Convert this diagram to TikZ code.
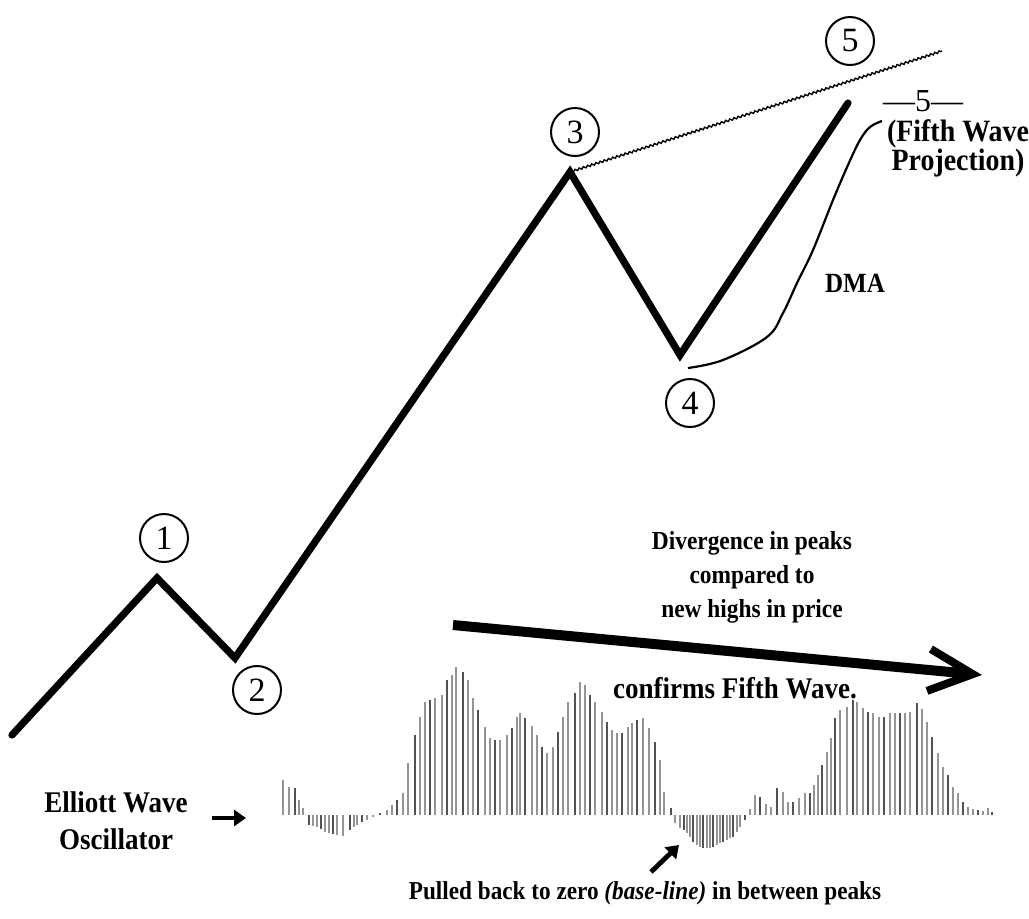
\documentclass[tikz,border=0pt]{standalone}
\usepackage{fontspec}
\setmainfont{Liberation Serif}[FakeStretch=0.9]
\newfontfamily\plainfont{Liberation Serif}
\usetikzlibrary{arrows.meta,decorations.pathmorphing}
\begin{document}
\begin{tikzpicture}[x=0.5pt,y=-0.5pt,
  wave/.style={line width=3.6pt, line join=miter, line cap=round},
  numcirc/.style={circle, draw, line width=1pt, minimum size=24pt, inner sep=0pt, font=\plainfont\fontsize{17}{17}\selectfont},
  lbl/.style={font=\bfseries\fontsize{13}{17}\selectfont, align=center, inner sep=0pt},
  bara/.style={line width=1.3pt, draw=black!42},
  barb/.style={line width=1.3pt, draw=black!68},
  thin/.style={line width=0.7pt, decorate, decoration={zigzag, segment length=2.2pt, amplitude=0.5pt}},
  dmaline/.style={line width=1.1pt},
  bigarrow/.style={line width=5pt, -{Straight Barb[length=22pt,width=21pt,line width=4pt]}},
  smallarrow/.style={line width=2.4pt, -{Triangle[length=6pt,width=8pt]}}]
\useasboundingbox (0,0) rectangle (1029,918);
\fill[white] (0,0) rectangle (1029,918);

% wave points
\coordinate (w0) at (12,735);
\coordinate (w1) at (157,578);
\coordinate (w2) at (235,658);
\coordinate (w3) at (570,172);
\coordinate (w4) at (680,355);
\coordinate (w5) at (848,103);
\draw[wave] (w0) -- (w1) -- (w2) -- (w3) -- (w4) -- (w5);

% circled numbers
\node[numcirc] (c1) at (164,538) {1};
\node[numcirc] (c2) at (257,690) {2};
\node[numcirc] (c3) at (575,132) {3};
\node[numcirc] (c4) at (690,403) {4};
\node[numcirc] (c5) at (850,41) {5};

% trend line from 3
\coordinate (t5) at (942,51);
\draw[thin] (w3) -- (t5);

% fifth wave projection
\node[font=\plainfont\fontsize{16}{16}\selectfont, inner sep=0pt] (p5) at (923,101) {—5—};
\node[lbl, font=\bfseries\fontsize{15.5}{14.5}\selectfont] (fwp) at (958,148) {(Fifth Wave\\Projection)};

% DMA
\node[lbl, font=\bfseries\fontsize{13.9}{15}\selectfont] (dma) at (855,283) {DMA};
\coordinate (d0) at (688,368);
\coordinate (d1) at (882,121);
\draw[dmaline] plot[smooth, tension=0.6] coordinates {(d0) (723,360) (767,337) (783,313) (797,283) (813,250) (833,200) (848,165) (860,140) (870,127) (d1)};

% divergence text and arrow
\node[lbl] (div) at (752,577) {Divergence in peaks\\compared to\\new highs in price};
\node[lbl, font=\bfseries\fontsize{15}{17}\selectfont] (conf) at (735,688) {confirms Fifth Wave.};
\coordinate (a1) at (453,625);
\coordinate (a2) at (982,675);
\draw[bigarrow] (a1) -- (a2);

% oscillator bars
\foreach \x/\h [count=\i] in {283/35, 289/28, 295/27, 299/15, 303/7, 309/-10, 313/-11, 317/-12, 321/-14, 325/-17, 329/-18, 333/-19, 337/-20, 343/-21, 350/-15, 354/-12, 357/-10, 362/-7, 367/-5, 373/-2, 380/2, 387/5, 392/10, 397/15, 403/22, 408/52, 415/80, 420/98, 425/113, 430/115, 435/117, 442/120, 447/135, 452/140, 456/148, 463/143, 468/135, 473/117, 478/105, 485/88, 490/77, 495/75, 500/75, 507/80, 512/87, 517/98, 520/102, 525/97, 532/89, 537/80, 542/68, 547/62, 553/68, 558/83, 563/98, 568/113, 575/122, 580/133, 585/130, 590/120, 595/113, 602/103, 607/93, 612/85, 617/82, 622/82, 628/88, 632/92, 637/95, 643/97, 649/87, 655/73, 660/55, 664/23, 671/7, 675/-8, 680/-13, 684/-15, 687/-18, 690/-22, 693/-27, 697/-30, 700/-32, 703/-33, 707/-33, 710/-33, 713/-32, 717/-30, 720/-28, 723/-27, 727/-25, 730/-23, 733/-22, 737/-17, 740/-12, 745/-5, 750/6, 755/20, 760/18, 766/11, 771/8, 777/27, 783/23, 788/13, 793/13, 799/17, 805/22, 810/22, 814/30, 818/40, 822/50, 827/63, 831/77, 835/97, 840/105, 847/108, 853/115, 857/113, 863/107, 868/103, 873/102, 879/98, 884/98, 890/102, 895/102, 900/102, 905/102, 910/103, 917/112, 922/106, 927/93, 932/78, 938/62, 943/48, 948/40, 953/28, 958/22, 963/13, 968/8, 973/6, 978/5, 983/4, 988/7, 992/3}
{
  \pgfmathparse{mod(\i,3)==0 ? 1 : 0}
  \ifnum\pgfmathresult>0
    \draw[barb] (\x,815) -- ++(0,-\h);
  \else
    \draw[bara] (\x,815) -- ++(0,-\h);
  \fi
}

% oscillator label
\node[lbl, font=\bfseries\fontsize{15}{18.5}\selectfont] (ewo) at (116,821) {Elliott Wave\\Oscillator};
\coordinate (e1) at (212,818);
\coordinate (e2) at (246,818);
\draw[smallarrow] (e1) -- (e2);

% bottom note
\node[lbl, font=\bfseries\fontsize{12.9}{15}\selectfont] (pull) at (645,893) {Pulled back to zero \textit{(base-line)} in between peaks};
\coordinate (b1) at (651,872);
\coordinate (b2) at (679,845);
\draw[smallarrow] (b1) -- (b2);
\end{tikzpicture}
\end{document}
